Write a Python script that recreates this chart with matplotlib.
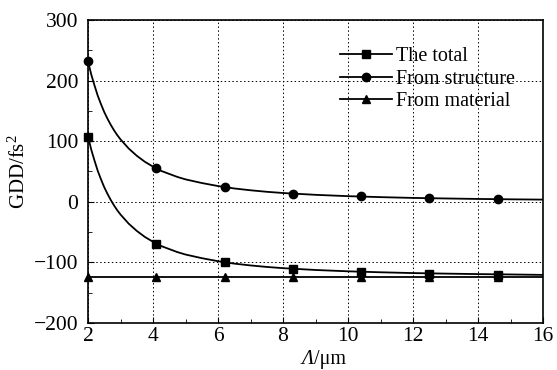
import numpy as np
import matplotlib
matplotlib.use('Agg')
import matplotlib.pyplot as plt
from matplotlib.ticker import MultipleLocator

plt.rcParams['font.family'] = ['Liberation Serif', 'DejaVu Serif']
plt.rcParams['mathtext.fontset'] = 'custom'
plt.rcParams['mathtext.rm'] = 'Liberation Serif'
plt.rcParams['mathtext.it'] = 'Liberation Serif:italic'

# marker positions (period, um)
x_pts = [2.0, 4.1, 6.2, 8.3, 10.4, 12.5, 14.6]
total_pts = [107, -69, -100, -111, -116, -119, -121]
struct_pts = [232, 55, 24, 13, 9, 6, 4]
mat_pts = [-124, -124, -124, -124, -124, -124, -124]

# smooth curves
x_line = [2.0, 2.1, 2.2, 2.3, 2.4, 2.5, 2.6, 2.7, 2.8, 2.9, 3.0, 3.25, 3.5, 3.75, 4.0,
          4.25, 4.5, 4.75, 5.0, 5.5, 6.0, 6.5, 7.0, 7.5, 8, 9, 10, 11, 12, 13, 14, 15, 16]
struct_line = [232, 210, 192, 175, 161, 148, 137, 127, 118, 110, 103, 88, 76, 66, 58,
               51, 46, 41, 37, 31, 26, 22, 19, 16.5, 14.5, 11.5, 9.3, 7.7, 6.4, 5.5, 4.7, 4.1, 3.6]
total_line = [108, 86, 68, 51, 37, 24, 13, 3, -6, -14, -21, -36, -48, -58, -66,
              -73, -78, -83, -87, -93, -98, -102, -105, -107.5, -109.5, -112.5, -114.7,
              -116.3, -117.6, -118.5, -119.3, -119.9, -120.6]
mat_line = [-124] * len(x_line)

fig = plt.figure(figsize=(5.57, 3.70), dpi=100)
ax = fig.add_axes([0.158, 0.127, 0.817, 0.819])

series = [
    (x_line, total_line, total_pts, 's', 'The total'),
    (x_line, struct_line, struct_pts, 'o', 'From structure'),
    (x_line, mat_line, mat_pts, '^', 'From material'),
]
handles = []
for xl, yl, yp, m, lab in series:
    ax.plot(xl, yl, color='black', lw=1.3, zorder=3)
    ax.plot(x_pts, yp, ls='none', marker=m, color='black', ms=6, zorder=4, clip_on=False)
    h, = ax.plot([], [], color='black', lw=1.3, marker=m, ms=6, label=lab)
    handles.append(h)

ax.set_xlim(2, 16)
ax.set_ylim(-200, 300)
ax.xaxis.set_major_locator(MultipleLocator(2))
ax.xaxis.set_minor_locator(MultipleLocator(1))
ax.yaxis.set_major_locator(MultipleLocator(100))
ax.yaxis.set_minor_locator(MultipleLocator(50))
ax.tick_params(which='both', direction='in', top=False, right=False, labelsize=15.5)
ax.tick_params(axis='x', pad=3)
ax.tick_params(axis='y', pad=7)
ax.tick_params(which='major', length=4)
ax.tick_params(which='minor', length=3)
ax.grid(True, which='major', ls=(0, (1.5, 2.5)), color='black', lw=0.7)
for s in ax.spines.values():
    s.set_linewidth(1.2)

# x label: italic Lambda followed by upright unit
t1 = ax.text(0.497, -0.088, 'Λ', transform=ax.transAxes, fontsize=14.5, fontstyle='italic',
             ha='right', va='top')
ax.annotate('/μm', xy=(1, 0), xycoords=t1, fontsize=14.5, ha='left', va='bottom')
ax.set_ylabel(r'GDD/fs$^2$', fontsize=15, labelpad=3)

ax.legend(handles=handles, loc='upper right', bbox_to_anchor=(0.965, 0.95), frameon=False,
          fontsize=14.5, handlelength=2.6, handletextpad=0.2, labelspacing=0.17,
          borderaxespad=0.2)

fig.savefig('out.png', dpi=100)
